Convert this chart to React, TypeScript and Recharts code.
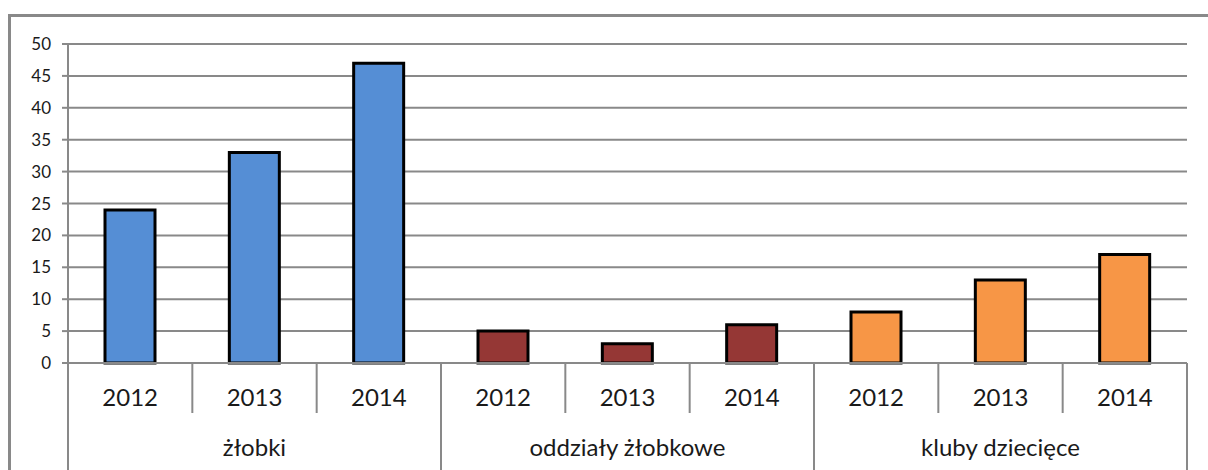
import { BarChart, Bar, Cell, CartesianGrid, XAxis, YAxis } from "recharts";

const groups = ["żłobki", "oddziały żłobkowe", "kluby dziecięce"];
const years = ["2012", "2013", "2014"];
const zlobki = [24, 33, 47];
const oddzialy = [5, 3, 6];
const kluby = [8, 13, 17];
const groupColors = ["#558ED5", "#953735", "#F79646"];
const yTicks = [0, 5, 10, 15, 20, 25, 30, 35, 40, 45, 50];

const seriesByGroup = [zlobki, oddzialy, kluby];

const data = groups.flatMap((group, g) =>
  years.map((year, i) => ({
    key: `${g}-${year}`,
    group,
    year,
    value: seriesByGroup[g][i],
    color: groupColors[g],
  }))
);

const WIDTH = 1208;
const HEIGHT = 470;
const MARGIN = { top: 44, right: 21, bottom: 0, left: 8 };
const Y_AXIS_WIDTH = 60;
const X_AXIS_HEIGHT = 107;
const GRAY = "#898989";
const FONT = "Lato, 'Open Sans', sans-serif";

const bandWidth = (WIDTH - MARGIN.left - MARGIN.right - Y_AXIS_WIDTH) / data.length;

function CategoryTick(props: any) {
  const { x, y, index } = props;
  const item = data[index];
  if (!item) return null;
  const left = x - bandWidth / 2;
  const right = x + bandWidth / 2;
  const isGroupStart = index % 3 === 0;
  const isLast = index === data.length - 1;
  return (
    <g>
      <line
        x1={left}
        x2={left}
        y1={y}
        y2={y + (isGroupStart ? X_AXIS_HEIGHT + 5 : 50)}
        stroke={GRAY}
        strokeWidth={2}
      />
      {isLast && (
        <line x1={right} x2={right} y1={y} y2={y + X_AXIS_HEIGHT + 5} stroke={GRAY} strokeWidth={2} />
      )}
      <text x={x} y={y + 43} textAnchor="middle" fontSize={24} fontFamily={FONT} fill="#1a1a1a">
        {item.year}
      </text>
      {index % 3 === 1 && (
        <text x={x} y={y + 93} textAnchor="middle" fontSize={24} fontFamily={FONT} fill="#1a1a1a">
          {item.group}
        </text>
      )}
    </g>
  );
}

export default function App() {
  return (
    <div
      style={{
        position: "absolute",
        left: 0,
        top: 0,
        width: WIDTH,
        height: HEIGHT,
        overflow: "hidden",
        background: "#fff",
      }}
    >
      <div
        style={{
          position: "absolute",
          left: 8,
          top: 14,
          width: WIDTH + 50,
          height: HEIGHT + 50,
          border: `3px solid ${GRAY}`,
          boxSizing: "border-box",
        }}
      />
      <BarChart width={WIDTH} height={HEIGHT} data={data} margin={MARGIN}>
        <CartesianGrid horizontal vertical={false} stroke={GRAY} strokeWidth={2} />
        <YAxis
          width={Y_AXIS_WIDTH}
          domain={[0, 50]}
          ticks={yTicks}
          interval={0}
          axisLine={{ stroke: GRAY, strokeWidth: 2 }}
          tickLine={{ stroke: GRAY, strokeWidth: 2 }}
          tickSize={6}
          tickMargin={11}
          tick={{ fill: "#1a1a1a", fontSize: 17, fontFamily: FONT }}
        />
        <XAxis
          dataKey="key"
          height={X_AXIS_HEIGHT}
          interval={0}
          axisLine={{ stroke: GRAY, strokeWidth: 2 }}
          tickLine={false}
          tickSize={0}
          tickMargin={0}
          tick={<CategoryTick />}
        />
        <Bar dataKey="value" barSize={50} stroke="#000" strokeWidth={3} isAnimationActive={false}>
          {data.map((d) => (
            <Cell key={d.key} fill={d.color} />
          ))}
        </Bar>
      </BarChart>
    </div>
  );
}
